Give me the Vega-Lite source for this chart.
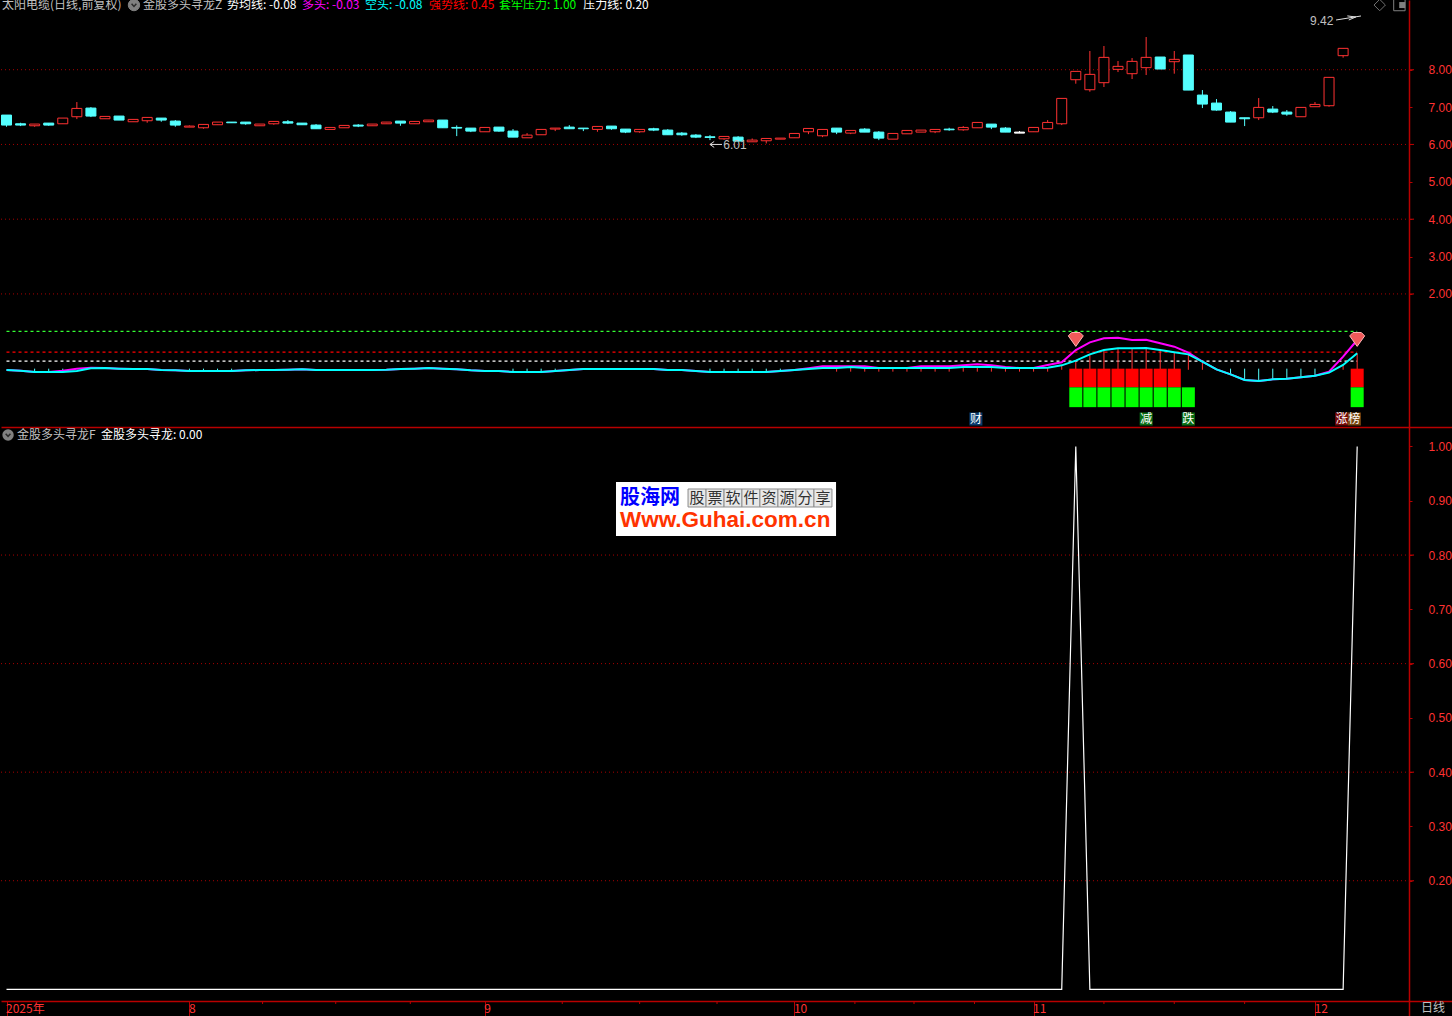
{"$schema":"https://vega.github.io/schema/vega-lite/v6.json","background":"#000000","padding":0,"spacing":0,"config":{"view":{"stroke":null},"concat":{"spacing":0},"text":{"font":"Noto Sans CJK SC"},"axis":{"title":null,"grid":false}},"datasets":{"candles":[
{"i":0,"top":6.786,"bot":6.518,"high":6.786,"low":6.473,"dir":"down"},
{"i":1,"top":6.553,"bot":6.518,"high":6.58,"low":6.491,"dir":"down"},
{"i":2,"top":6.545,"bot":6.5,"high":6.545,"low":6.473,"dir":"up"},
{"i":3,"top":6.571,"bot":6.518,"high":6.571,"low":6.5,"dir":"down"},
{"i":4,"top":6.705,"bot":6.553,"high":6.705,"low":6.553,"dir":"up"},
{"i":5,"top":6.964,"bot":6.741,"high":7.134,"low":6.678,"dir":"up"},
{"i":6,"top":6.973,"bot":6.759,"high":7.0,"low":6.732,"dir":"down"},
{"i":7,"top":6.75,"bot":6.687,"high":6.75,"low":6.687,"dir":"up"},
{"i":8,"top":6.759,"bot":6.652,"high":6.759,"low":6.652,"dir":"down"},
{"i":9,"top":6.67,"bot":6.607,"high":6.67,"low":6.607,"dir":"up"},
{"i":10,"top":6.723,"bot":6.634,"high":6.723,"low":6.58,"dir":"up"},
{"i":11,"top":6.705,"bot":6.652,"high":6.705,"low":6.607,"dir":"down"},
{"i":12,"top":6.625,"bot":6.518,"high":6.652,"low":6.473,"dir":"down"},
{"i":13,"top":6.491,"bot":6.464,"high":6.509,"low":6.464,"dir":"up"},
{"i":14,"top":6.536,"bot":6.446,"high":6.536,"low":6.42,"dir":"up"},
{"i":15,"top":6.598,"bot":6.527,"high":6.598,"low":6.527,"dir":"up"},
{"i":16,"top":6.598,"bot":6.58,"high":6.598,"low":6.58,"dir":"down"},
{"i":17,"top":6.598,"bot":6.553,"high":6.598,"low":6.527,"dir":"down"},
{"i":18,"top":6.545,"bot":6.5,"high":6.545,"low":6.5,"dir":"up"},
{"i":19,"top":6.616,"bot":6.553,"high":6.616,"low":6.527,"dir":"up"},
{"i":20,"top":6.607,"bot":6.571,"high":6.652,"low":6.545,"dir":"down"},
{"i":21,"top":6.571,"bot":6.527,"high":6.571,"low":6.527,"dir":"down"},
{"i":22,"top":6.518,"bot":6.42,"high":6.545,"low":6.42,"dir":"down"},
{"i":23,"top":6.455,"bot":6.402,"high":6.455,"low":6.402,"dir":"up"},
{"i":24,"top":6.509,"bot":6.446,"high":6.509,"low":6.446,"dir":"up"},
{"i":25,"top":6.518,"bot":6.491,"high":6.545,"low":6.464,"dir":"down"},
{"i":26,"top":6.545,"bot":6.5,"high":6.545,"low":6.5,"dir":"up"},
{"i":27,"top":6.598,"bot":6.553,"high":6.598,"low":6.553,"dir":"up"},
{"i":28,"top":6.625,"bot":6.571,"high":6.625,"low":6.5,"dir":"down"},
{"i":29,"top":6.616,"bot":6.553,"high":6.616,"low":6.553,"dir":"up"},
{"i":30,"top":6.652,"bot":6.607,"high":6.652,"low":6.607,"dir":"up"},
{"i":31,"top":6.652,"bot":6.446,"high":6.652,"low":6.446,"dir":"down"},
{"i":32,"top":6.455,"bot":6.437,"high":6.509,"low":6.223,"dir":"down"},
{"i":33,"top":6.437,"bot":6.357,"high":6.437,"low":6.33,"dir":"down"},
{"i":34,"top":6.455,"bot":6.339,"high":6.455,"low":6.339,"dir":"up"},
{"i":35,"top":6.464,"bot":6.357,"high":6.464,"low":6.339,"dir":"down"},
{"i":36,"top":6.357,"bot":6.196,"high":6.411,"low":6.196,"dir":"down"},
{"i":37,"top":6.25,"bot":6.178,"high":6.303,"low":6.178,"dir":"up"},
{"i":38,"top":6.402,"bot":6.259,"high":6.402,"low":6.259,"dir":"up"},
{"i":39,"top":6.437,"bot":6.411,"high":6.437,"low":6.357,"dir":"up"},
{"i":40,"top":6.464,"bot":6.42,"high":6.518,"low":6.42,"dir":"down"},
{"i":41,"top":6.437,"bot":6.42,"high":6.437,"low":6.357,"dir":"down"},
{"i":42,"top":6.482,"bot":6.402,"high":6.482,"low":6.339,"dir":"up"},
{"i":43,"top":6.491,"bot":6.42,"high":6.491,"low":6.393,"dir":"down"},
{"i":44,"top":6.411,"bot":6.33,"high":6.411,"low":6.303,"dir":"down"},
{"i":45,"top":6.402,"bot":6.339,"high":6.402,"low":6.312,"dir":"up"},
{"i":46,"top":6.42,"bot":6.384,"high":6.446,"low":6.357,"dir":"down"},
{"i":47,"top":6.384,"bot":6.259,"high":6.411,"low":6.259,"dir":"down"},
{"i":48,"top":6.303,"bot":6.259,"high":6.33,"low":6.232,"dir":"down"},
{"i":49,"top":6.25,"bot":6.196,"high":6.277,"low":6.17,"dir":"down"},
{"i":50,"top":6.205,"bot":6.187,"high":6.25,"low":6.116,"dir":"down"},
{"i":51,"top":6.214,"bot":6.151,"high":6.214,"low":6.125,"dir":"up"},
{"i":52,"top":6.196,"bot":6.089,"high":6.223,"low":6.089,"dir":"down"},
{"i":53,"top":6.116,"bot":6.071,"high":6.16,"low":6.071,"dir":"up"},
{"i":54,"top":6.16,"bot":6.098,"high":6.16,"low":6.026,"dir":"up"},
{"i":55,"top":6.169,"bot":6.142,"high":6.169,"low":6.142,"dir":"up"},
{"i":56,"top":6.294,"bot":6.178,"high":6.294,"low":6.178,"dir":"up"},
{"i":57,"top":6.428,"bot":6.339,"high":6.428,"low":6.276,"dir":"up"},
{"i":58,"top":6.401,"bot":6.232,"high":6.401,"low":6.196,"dir":"up"},
{"i":59,"top":6.437,"bot":6.33,"high":6.437,"low":6.276,"dir":"down"},
{"i":60,"top":6.375,"bot":6.303,"high":6.375,"low":6.276,"dir":"up"},
{"i":61,"top":6.41,"bot":6.33,"high":6.437,"low":6.33,"dir":"down"},
{"i":62,"top":6.33,"bot":6.169,"high":6.357,"low":6.116,"dir":"down"},
{"i":63,"top":6.294,"bot":6.142,"high":6.294,"low":6.142,"dir":"up"},
{"i":64,"top":6.375,"bot":6.285,"high":6.375,"low":6.285,"dir":"up"},
{"i":65,"top":6.384,"bot":6.33,"high":6.384,"low":6.33,"dir":"up"},
{"i":66,"top":6.401,"bot":6.339,"high":6.401,"low":6.303,"dir":"up"},
{"i":67,"top":6.41,"bot":6.392,"high":6.446,"low":6.366,"dir":"down"},
{"i":68,"top":6.455,"bot":6.392,"high":6.491,"low":6.366,"dir":"up"},
{"i":69,"top":6.589,"bot":6.446,"high":6.589,"low":6.446,"dir":"up"},
{"i":70,"top":6.544,"bot":6.464,"high":6.544,"low":6.41,"dir":"down"},
{"i":71,"top":6.437,"bot":6.33,"high":6.464,"low":6.33,"dir":"down"},
{"i":72,"top":6.33,"bot":6.303,"high":6.357,"low":6.303,"dir":"flat"},
{"i":73,"top":6.455,"bot":6.339,"high":6.455,"low":6.339,"dir":"up"},
{"i":74,"top":6.589,"bot":6.42,"high":6.652,"low":6.42,"dir":"up"},
{"i":75,"top":7.232,"bot":6.553,"high":7.232,"low":6.518,"dir":"up"},
{"i":76,"top":7.955,"bot":7.732,"high":7.955,"low":7.625,"dir":"up"},
{"i":77,"top":7.875,"bot":7.464,"high":8.5,"low":7.411,"dir":"up"},
{"i":78,"top":8.33,"bot":7.652,"high":8.634,"low":7.536,"dir":"up"},
{"i":79,"top":8.089,"bot":8.009,"high":8.232,"low":7.937,"dir":"up"},
{"i":80,"top":8.223,"bot":7.893,"high":8.312,"low":7.75,"dir":"up"},
{"i":81,"top":8.33,"bot":8.054,"high":8.875,"low":7.857,"dir":"up"},
{"i":82,"top":8.339,"bot":8.018,"high":8.339,"low":8.018,"dir":"down"},
{"i":83,"top":8.277,"bot":8.214,"high":8.5,"low":7.893,"dir":"up"},
{"i":84,"top":8.393,"bot":7.455,"high":8.393,"low":7.455,"dir":"down"},
{"i":85,"top":7.321,"bot":7.08,"high":7.455,"low":6.973,"dir":"down"},
{"i":86,"top":7.107,"bot":6.92,"high":7.214,"low":6.902,"dir":"down"},
{"i":87,"top":6.866,"bot":6.598,"high":6.893,"low":6.598,"dir":"down"},
{"i":88,"top":6.714,"bot":6.687,"high":6.714,"low":6.491,"dir":"down"},
{"i":89,"top":6.991,"bot":6.714,"high":7.241,"low":6.652,"dir":"up"},
{"i":90,"top":6.946,"bot":6.866,"high":7.027,"low":6.839,"dir":"down"},
{"i":91,"top":6.866,"bot":6.812,"high":6.92,"low":6.768,"dir":"down"},
{"i":92,"top":6.991,"bot":6.741,"high":6.991,"low":6.741,"dir":"up"},
{"i":93,"top":7.071,"bot":7.009,"high":7.134,"low":7.009,"dir":"up"},
{"i":94,"top":7.795,"bot":7.036,"high":7.795,"low":7.009,"dir":"up"},
{"i":95,"top":8.571,"bot":8.375,"high":8.571,"low":8.321,"dir":"up"}
],"ind":[
{"i":0,"duo":-0.036,"kong":-0.036,"f":0},{"i":1,"duo":-0.054,"kong":-0.054,"f":0},{"i":2,"duo":-0.09,"kong":-0.09,"f":0},{"i":3,"duo":-0.09,"kong":-0.09,"f":0},{"i":4,"duo":-0.054,"kong":-0.09,"f":0},{"i":5,"duo":0.0,"kong":-0.063,"f":0},{"i":6,"duo":0.026,"kong":0.008,"f":0},{"i":7,"duo":0.017,"kong":0.017,"f":0},{"i":8,"duo":0,"kong":0,"f":0},{"i":9,"duo":-0.009,"kong":-0.009,"f":0},
{"i":10,"duo":-0.009,"kong":-0.009,"f":0},{"i":11,"duo":-0.036,"kong":-0.036,"f":0},{"i":12,"duo":-0.045,"kong":-0.045,"f":0},{"i":13,"duo":-0.063,"kong":-0.063,"f":0},{"i":14,"duo":-0.063,"kong":-0.063,"f":0},{"i":15,"duo":-0.063,"kong":-0.063,"f":0},{"i":16,"duo":-0.063,"kong":-0.063,"f":0},{"i":17,"duo":-0.045,"kong":-0.045,"f":0},{"i":18,"duo":-0.036,"kong":-0.036,"f":0},{"i":19,"duo":-0.036,"kong":-0.036,"f":0},
{"i":20,"duo":-0.027,"kong":-0.027,"f":0},{"i":21,"duo":-0.018,"kong":-0.018,"f":0},{"i":22,"duo":-0.036,"kong":-0.036,"f":0},{"i":23,"duo":-0.036,"kong":-0.036,"f":0},{"i":24,"duo":-0.036,"kong":-0.036,"f":0},{"i":25,"duo":-0.036,"kong":-0.036,"f":0},{"i":26,"duo":-0.036,"kong":-0.036,"f":0},{"i":27,"duo":-0.027,"kong":-0.027,"f":0},{"i":28,"duo":-0.009,"kong":-0.009,"f":0},{"i":29,"duo":0,"kong":0,"f":0},
{"i":30,"duo":0.017,"kong":0.017,"f":0},{"i":31,"duo":0,"kong":0,"f":0},{"i":32,"duo":-0.018,"kong":-0.018,"f":0},{"i":33,"duo":-0.045,"kong":-0.045,"f":0},{"i":34,"duo":-0.063,"kong":-0.063,"f":0},{"i":35,"duo":-0.063,"kong":-0.063,"f":0},{"i":36,"duo":-0.09,"kong":-0.09,"f":0},{"i":37,"duo":-0.09,"kong":-0.09,"f":0},{"i":38,"duo":-0.09,"kong":-0.09,"f":0},{"i":39,"duo":-0.063,"kong":-0.063,"f":0},
{"i":40,"duo":-0.036,"kong":-0.036,"f":0},{"i":41,"duo":-0.009,"kong":-0.009,"f":0},{"i":42,"duo":-0.009,"kong":-0.009,"f":0},{"i":43,"duo":-0.009,"kong":-0.009,"f":0},{"i":44,"duo":-0.009,"kong":-0.009,"f":0},{"i":45,"duo":-0.009,"kong":-0.009,"f":0},{"i":46,"duo":-0.009,"kong":-0.009,"f":0},{"i":47,"duo":-0.036,"kong":-0.036,"f":0},{"i":48,"duo":-0.036,"kong":-0.036,"f":0},{"i":49,"duo":-0.063,"kong":-0.063,"f":0},
{"i":50,"duo":-0.09,"kong":-0.09,"f":0},{"i":51,"duo":-0.09,"kong":-0.09,"f":0},{"i":52,"duo":-0.09,"kong":-0.09,"f":0},{"i":53,"duo":-0.09,"kong":-0.09,"f":0},{"i":54,"duo":-0.09,"kong":-0.09,"f":0},{"i":55,"duo":-0.063,"kong":-0.063,"f":0},{"i":56,"duo":-0.036,"kong":-0.036,"f":0},{"i":57,"duo":0.009,"kong":-0.009,"f":0},{"i":58,"duo":0.062,"kong":0.018,"f":0},{"i":59,"duo":0.062,"kong":0.018,"f":0},
{"i":60,"duo":0.062,"kong":0.045,"f":0},{"i":61,"duo":0.062,"kong":0.018,"f":0},{"i":62,"duo":0.018,"kong":0.018,"f":0},{"i":63,"duo":0.018,"kong":0.018,"f":0},{"i":64,"duo":0.018,"kong":0.018,"f":0},{"i":65,"duo":0.062,"kong":0.018,"f":0},{"i":66,"duo":0.062,"kong":0.018,"f":0},{"i":67,"duo":0.062,"kong":0.018,"f":0},{"i":68,"duo":0.089,"kong":0.045,"f":0},{"i":69,"duo":0.116,"kong":0.045,"f":0},
{"i":70,"duo":0.089,"kong":0.045,"f":0},{"i":71,"duo":0.045,"kong":0.018,"f":0},{"i":72,"duo":0.018,"kong":0.018,"f":0},{"i":73,"duo":0.018,"kong":0.018,"f":0},{"i":74,"duo":0.098,"kong":0.026,"f":0},{"i":75,"duo":0.169,"kong":0.089,"f":0},{"i":76,"duo":0.499,"kong":0.214,"f":1},{"i":77,"duo":0.704,"kong":0.383,"f":0},{"i":78,"duo":0.811,"kong":0.499,"f":0},{"i":79,"duo":0.829,"kong":0.544,"f":0},
{"i":80,"duo":0.767,"kong":0.544,"f":0},{"i":81,"duo":0.776,"kong":0.553,"f":0},{"i":82,"duo":0.678,"kong":0.499,"f":0},{"i":83,"duo":0.588,"kong":0.437,"f":0},{"i":84,"duo":0.428,"kong":0.383,"f":0},{"i":85,"duo":0.187,"kong":0.187,"f":0},{"i":86,"duo":-0.018,"kong":-0.018,"f":0},{"i":87,"duo":-0.152,"kong":-0.152,"f":0},{"i":88,"duo":-0.304,"kong":-0.304,"f":0},{"i":89,"duo":-0.33,"kong":-0.33,"f":0},
{"i":90,"duo":-0.286,"kong":-0.286,"f":0},{"i":91,"duo":-0.268,"kong":-0.268,"f":0},{"i":92,"duo":-0.232,"kong":-0.232,"f":0},{"i":93,"duo":-0.188,"kong":-0.188,"f":0},{"i":94,"duo":-0.081,"kong":-0.107,"f":0},{"i":95,"duo":0.321,"kong":0.098,"f":0},{"i":96,"duo":0.767,"kong":0.41,"f":1}
],"stems":[
{"i":2,"base":0,"v":-0.09,"sign":"neg"},{"i":3,"base":0,"v":-0.09,"sign":"neg"},{"i":4,"base":0,"v":-0.09,"sign":"neg"},{"i":13,"base":0,"v":-0.063,"sign":"neg"},{"i":14,"base":0,"v":-0.063,"sign":"neg"},{"i":15,"base":0,"v":-0.063,"sign":"neg"},{"i":16,"base":0,"v":-0.063,"sign":"neg"},{"i":36,"base":0,"v":-0.09,"sign":"neg"},{"i":37,"base":0,"v":-0.09,"sign":"neg"},{"i":38,"base":0,"v":-0.09,"sign":"neg"},{"i":39,"base":0,"v":-0.063,"sign":"neg"},{"i":50,"base":0,"v":-0.09,"sign":"neg"},{"i":51,"base":0,"v":-0.09,"sign":"neg"},{"i":52,"base":0,"v":-0.09,"sign":"neg"},{"i":53,"base":0,"v":-0.09,"sign":"neg"},{"i":54,"base":0,"v":-0.09,"sign":"neg"},{"i":55,"base":0,"v":-0.063,"sign":"neg"},
{"i":59,"base":-0.08,"v":0.018,"sign":"pos"},{"i":60,"base":-0.08,"v":0.045,"sign":"pos"},{"i":61,"base":-0.08,"v":0.018,"sign":"pos"},{"i":62,"base":-0.08,"v":0.018,"sign":"pos"},{"i":63,"base":-0.08,"v":0.018,"sign":"pos"},{"i":64,"base":-0.08,"v":0.018,"sign":"pos"},{"i":65,"base":-0.08,"v":0.018,"sign":"pos"},{"i":66,"base":-0.08,"v":0.018,"sign":"pos"},{"i":67,"base":-0.08,"v":0.018,"sign":"pos"},{"i":68,"base":-0.08,"v":0.045,"sign":"pos"},{"i":69,"base":-0.08,"v":0.045,"sign":"pos"},{"i":70,"base":-0.08,"v":0.045,"sign":"pos"},{"i":71,"base":-0.08,"v":0.018,"sign":"pos"},{"i":72,"base":-0.08,"v":0.018,"sign":"pos"},{"i":73,"base":-0.08,"v":0.018,"sign":"pos"},{"i":74,"base":-0.08,"v":0.026,"sign":"pos"},
{"i":75,"base":-0.03,"v":0.089,"sign":"pos"},{"i":76,"base":-0.03,"v":0.214,"sign":"pos"},{"i":77,"base":-0.03,"v":0.383,"sign":"pos"},{"i":78,"base":-0.03,"v":0.499,"sign":"pos"},{"i":79,"base":-0.03,"v":0.544,"sign":"pos"},{"i":80,"base":-0.03,"v":0.544,"sign":"pos"},{"i":81,"base":-0.03,"v":0.553,"sign":"pos"},{"i":82,"base":-0.03,"v":0.499,"sign":"pos"},{"i":83,"base":-0.03,"v":0.437,"sign":"pos"},{"i":84,"base":-0.03,"v":0.383,"sign":"pos"},{"i":85,"base":-0.03,"v":0.187,"sign":"pos"},{"i":95,"base":-0.03,"v":0.098,"sign":"pos"},{"i":96,"base":-0.03,"v":0.41,"sign":"pos"},
{"i":87,"base":0,"v":-0.152,"sign":"neg"},{"i":88,"base":0,"v":-0.304,"sign":"neg"},{"i":89,"base":0,"v":-0.33,"sign":"neg"},{"i":90,"base":0,"v":-0.286,"sign":"neg"},{"i":91,"base":0,"v":-0.268,"sign":"neg"},{"i":92,"base":0,"v":-0.232,"sign":"neg"},{"i":93,"base":0,"v":-0.188,"sign":"neg"}
],"blocks":[
{"i":76,"a":0,"b":-0.5,"k":"red"},{"i":77,"a":0,"b":-0.5,"k":"red"},{"i":78,"a":0,"b":-0.5,"k":"red"},{"i":79,"a":0,"b":-0.5,"k":"red"},{"i":80,"a":0,"b":-0.5,"k":"red"},{"i":81,"a":0,"b":-0.5,"k":"red"},{"i":82,"a":0,"b":-0.5,"k":"red"},{"i":83,"a":0,"b":-0.5,"k":"red"},{"i":96,"a":0,"b":-0.5,"k":"red"},
{"i":76,"a":-0.5,"b":-1.03,"k":"green"},{"i":77,"a":-0.5,"b":-1.03,"k":"green"},{"i":78,"a":-0.5,"b":-1.03,"k":"green"},{"i":79,"a":-0.5,"b":-1.03,"k":"green"},{"i":80,"a":-0.5,"b":-1.03,"k":"green"},{"i":81,"a":-0.5,"b":-1.03,"k":"green"},{"i":82,"a":-0.5,"b":-1.03,"k":"green"},{"i":83,"a":-0.5,"b":-1.03,"k":"green"},{"i":84,"a":-0.5,"b":-1.03,"k":"green"},{"i":96,"a":-0.5,"b":-1.03,"k":"green"}
],"levels":[{"i0":0,"i1":96,"v":1.0,"k":"套牢压力"},{"i0":0,"i1":96,"v":0.44,"k":"强势线"},{"i0":0,"i1":96,"v":0.2,"k":"压力线"}],
"gridTop":[{"i0":-0.39,"i1":100,"v":8},{"i0":-0.39,"i1":100,"v":6},{"i0":-0.39,"i1":100,"v":4},{"i0":-0.39,"i1":100,"v":2}],
"gridBot":[{"i0":-0.39,"i1":100,"v":0.8},{"i0":-0.39,"i1":100,"v":0.6},{"i0":-0.39,"i1":100,"v":0.4},{"i0":-0.39,"i1":100,"v":0.2}],
"gems":[{"i":76,"v":0.767},{"i":96,"v":0.767}],
"badges":[{"i":68.9,"v":-1.347,"t":"财","k":"财"},{"i":81,"v":-1.347,"t":"减","k":"减"},{"i":84,"v":-1.347,"t":"跌","k":"跌"},{"i":94.9,"v":-1.347,"t":"涨","k":"涨"},{"i":95.8,"v":-1.347,"t":"榜","k":"榜"}],
"head":[{"i":-0.32,"v":9.73,"t":"太阳电缆(日线,前复权)","k":"name"},{"i":9.7,"v":9.73,"t":"金股多头寻龙Z","k":"name"},{"i":15.67,"v":9.73,"t":"势均线: -0.08","k":"white"},{"i":21.0,"v":9.73,"t":"多头: -0.03","k":"magenta"},{"i":25.48,"v":9.73,"t":"空头: -0.08","k":"cyan"},{"i":30.03,"v":9.73,"t":"强势线: 0.45","k":"red"},{"i":35.0,"v":9.73,"t":"套牢压力: 1.00","k":"green"},{"i":41.0,"v":9.73,"t":"压力线: 0.20","k":"white"}],
"extremes":[{"i":92.65,"v":9.31,"t":"9.42"},{"i":50.95,"v":5.98,"t":"6.01"}],
"arrows":[{"i":94.5,"v":9.33,"i2":96.27,"v2":9.437},{"i":95.3,"v":9.44,"i2":95.9,"v2":9.41},{"i":95.4,"v":9.33,"i2":95.9,"v2":9.41},{"i":50,"v":6.0,"i2":50.85,"v2":6.0},{"i":50,"v":6.0,"i2":50.3,"v2":6.08},{"i":50,"v":6.0,"i2":50.3,"v2":5.92}],
"iconTop":[{"i":9.06,"v":9.73,"k":"round"},{"i":97.6,"v":9.73,"k":"diamond"},{"i":99.0,"v":9.73,"k":"panel"}],
"chevrons":[{"i":9.06,"v":9.73,"panel":"top"}],
"panelFill":[{"i":99.2,"v":9.73}],
"majorTop":[{"i0":99.68,"i1":100.04,"v":8},{"i0":99.68,"i1":100.04,"v":6},{"i0":99.68,"i1":100.04,"v":4},{"i0":99.68,"i1":100.04,"v":2}],
"majorBot":[{"i0":99.68,"i1":100.04,"v":0.8},{"i0":99.68,"i1":100.04,"v":0.6},{"i0":99.68,"i1":100.04,"v":0.4},{"i0":99.68,"i1":100.04,"v":0.2}],
"barsBottom":[{"i0":43.32,"i1":58.96,"a":0.9346,"b":0.8351}],
"wmCells":[{"i":49.08,"t":"股"},{"i":50.36,"t":"票"},{"i":51.64,"t":"软"},{"i":52.91,"t":"件"},{"i":54.19,"t":"资"},{"i":55.47,"t":"源"},{"i":56.75,"t":"分"},{"i":58.03,"t":"享"}],
"minor":[{"i":18.2,"a":-0.0216,"b":-0.0271},{"i":23.4,"a":-0.0216,"b":-0.0271},{"i":28.7,"a":-0.0216,"b":-0.0271},{"i":39.5,"a":-0.0216,"b":-0.0271},{"i":45,"a":-0.0216,"b":-0.0271},{"i":50.5,"a":-0.0216,"b":-0.0271},{"i":60.3,"a":-0.0216,"b":-0.0271},{"i":64.5,"a":-0.0216,"b":-0.0271},{"i":68.8,"a":-0.0216,"b":-0.0271},{"i":78,"a":-0.0216,"b":-0.0271},{"i":83,"a":-0.0216,"b":-0.0271},{"i":88,"a":-0.0216,"b":-0.0271}]
},
"vconcat":[
{"width":1452,"height":427,"resolve":{"scale":{"color":"independent","fill":"independent","stroke":"independent"}},"layer":[
{"data":{"name":"gridTop"},"mark":{"type":"rule","color":"#a80000","strokeDash":[1,3],"strokeWidth":1},"encoding":{
"x":{"field":"i0","type":"quantitative","scale":{"domain":[-0.391,102.81],"nice":false,"zero":false,"padding":0},"axis":{"orient":"bottom","labels":false,"ticks":false,"title":null,"grid":false,"domainColor":"#b80000","domainWidth":1.5}},
"x2":{"field":"i1"},
"y":{"field":"v","type":"quantitative","scale":{"domain":[-1.561,9.865],"nice":false,"zero":false,"padding":0},"axis":{"orient":"right","offset":-44,"values":[8,7,6,5,4,3,2],"format":".2f","title":null,"grid":false,"domainColor":"#b80000","domainWidth":1.5,"tickColor":"#b80000","tickSize":3,"labelColor":"#ff3232","labelFont":"Liberation Sans","labelFontSize":12,"labelPadding":16,"labelAlign":"left","labelFlush":false,"labelBound":false,"labelOverlap":false}}}},
{"data":{"name":"majorTop"},"mark":{"type":"rule","color":"#b80000","strokeWidth":1},"encoding":{"x":{"field":"i0","type":"quantitative"},"x2":{"field":"i1"},"y":{"field":"v","type":"quantitative"}}},
{"data":{"name":"candles"},"mark":{"type":"rule","strokeWidth":1},"encoding":{"x":{"field":"i","type":"quantitative"},"y":{"field":"low","type":"quantitative"},"y2":{"field":"high"},"color":{"field":"dir","type":"nominal","legend":null,"scale":{"domain":["up","down","flat"],"range":["#ff3232","#54ffff","#ffffff"]}}}},
{"data":{"name":"candles"},"mark":{"type":"bar","size":10,"strokeWidth":1},"encoding":{"x":{"field":"i","type":"quantitative"},"y":{"field":"top","type":"quantitative"},"y2":{"field":"bot"},"fill":{"field":"dir","type":"nominal","legend":null,"scale":{"domain":["up","down","flat"],"range":["#000000","#54ffff","#ffffff"]}},"stroke":{"field":"dir","type":"nominal","legend":null,"scale":{"domain":["up","down","flat"],"range":["#ff3232","#54ffff","#ffffff"]}}}},
{"data":{"name":"levels"},"mark":{"type":"rule","strokeDash":[3,3],"strokeWidth":1.2},"encoding":{"x":{"field":"i0","type":"quantitative"},"x2":{"field":"i1"},"y":{"field":"v","type":"quantitative"},"color":{"field":"k","type":"nominal","legend":null,"scale":{"domain":["套牢压力","强势线","压力线"],"range":["#33ff33","#ff0000","#ffffff"]}}}},
{"data":{"name":"stems"},"mark":{"type":"rule","strokeWidth":1},"encoding":{"x":{"field":"i","type":"quantitative"},"y":{"field":"base","type":"quantitative"},"y2":{"field":"v"},"color":{"field":"sign","type":"nominal","legend":null,"scale":{"domain":["pos","neg"],"range":["#ff3232","#54ffff"]}}}},
{"data":{"name":"blocks"},"mark":{"type":"bar","size":13},"encoding":{"x":{"field":"i","type":"quantitative"},"y":{"field":"a","type":"quantitative"},"y2":{"field":"b"},"fill":{"field":"k","type":"nominal","legend":null,"scale":{"domain":["red","green"],"range":["#ff0000","#00ff00"]}}}},
{"data":{"name":"ind"},"mark":{"type":"line","color":"#ff00ff","strokeWidth":2},"encoding":{"x":{"field":"i","type":"quantitative"},"y":{"field":"duo","type":"quantitative"}}},
{"data":{"name":"ind"},"mark":{"type":"line","color":"#00ffff","strokeWidth":2},"encoding":{"x":{"field":"i","type":"quantitative"},"y":{"field":"kong","type":"quantitative"}}},
{"data":{"name":"gems"},"mark":{"type":"point","filled":true,"size":225,"shape":"M-1,-0.55 L-0.55,-1 L0.55,-1 L1,-0.55 L0,0.85 Z","fill":"#f05a5a","stroke":"#ffb4b4","strokeWidth":1,"opacity":1},"encoding":{"x":{"field":"i","type":"quantitative"},"y":{"field":"v","type":"quantitative"}}},
{"data":{"name":"badges"},"mark":{"type":"point","filled":true,"shape":"square","size":169,"opacity":1},"encoding":{"x":{"field":"i","type":"quantitative"},"y":{"field":"v","type":"quantitative"},"fill":{"field":"k","type":"nominal","legend":null,"scale":{"domain":["财","减","跌","涨","榜"],"range":["#0a3c6e","#0a6e14","#0a6e14","#780a0a","#784610"]}}}},
{"data":{"name":"badges"},"mark":{"type":"text","fontSize":12,"color":"#ffffff","baseline":"middle","align":"center"},"encoding":{"x":{"field":"i","type":"quantitative"},"y":{"field":"v","type":"quantitative"},"text":{"field":"t"}}},
{"data":{"name":"head"},"mark":{"type":"text","clip":true,"fontSize":12,"baseline":"middle","align":"left"},"encoding":{"x":{"field":"i","type":"quantitative"},"y":{"field":"v","type":"quantitative"},"text":{"field":"t"},"color":{"field":"k","type":"nominal","legend":null,"scale":{"domain":["name","white","magenta","cyan","red","green"],"range":["#c0c0c0","#ffffff","#ff00ff","#00ffff","#ff0000","#00ff00"]}}}},
{"data":{"name":"extremes"},"mark":{"type":"text","fontSize":12,"font":"Liberation Sans","baseline":"middle","align":"left","color":"#c0c0c0"},"encoding":{"x":{"field":"i","type":"quantitative"},"y":{"field":"v","type":"quantitative"},"text":{"field":"t"}}},
{"data":{"name":"arrows"},"mark":{"type":"rule","color":"#e0e0e0","strokeWidth":1},"encoding":{"x":{"field":"i","type":"quantitative"},"x2":{"field":"i2"},"y":{"field":"v","type":"quantitative"},"y2":{"field":"v2"}}},
{"data":{"name":"iconTop"},"mark":{"type":"point","clip":true,"opacity":1,"strokeWidth":1,"size":130},"encoding":{"x":{"field":"i","type":"quantitative"},"y":{"field":"v","type":"quantitative"},"shape":{"field":"k","type":"nominal","legend":null,"scale":{"domain":["round","diamond","panel"],"range":["circle","diamond","square"]}},"fill":{"field":"k","type":"nominal","legend":null,"scale":{"domain":["round","diamond","panel"],"range":["#808080","transparent","transparent"]}},"stroke":{"field":"k","type":"nominal","legend":null,"scale":{"domain":["round","diamond","panel"],"range":["#808080","#707070","#808080"]}}}},
{"data":{"name":"panelFill"},"mark":{"type":"point","clip":true,"shape":"square","filled":true,"size":36,"color":"#808080","opacity":1},"encoding":{"x":{"field":"i","type":"quantitative"},"y":{"field":"v","type":"quantitative"}}},
{"data":{"name":"chevrons"},"mark":{"type":"point","clip":true,"shape":"M-0.6,-0.3 L0,0.35 L0.6,-0.3","filled":false,"size":64,"stroke":"#2a2a2a","strokeWidth":1.5,"opacity":1},"encoding":{"x":{"field":"i","type":"quantitative"},"y":{"field":"v","type":"quantitative"}}}
]},
{"width":1452,"height":589,"resolve":{"scale":{"color":"independent","fill":"independent","stroke":"independent"}},"layer":[
{"data":{"name":"gridBot"},"mark":{"type":"rule","color":"#a80000","strokeDash":[1,3],"strokeWidth":1},"encoding":{
"x":{"field":"i0","type":"quantitative","scale":{"domain":[-0.391,102.81],"nice":false,"zero":false,"padding":0},"axis":{"orient":"bottom","offset":-15,"values":[0,13,34,56,73,93],"labelExpr":"datum.value==0?'2025年':datum.value==13?'8':datum.value==34?'9':datum.value==56?'10':datum.value==73?'11':'12'","title":null,"grid":false,"domainColor":"#b80000","domainWidth":1.5,"tickColor":"#b80000","tickSize":15,"labelColor":"#ff3232","labelFont":"Noto Sans CJK SC","labelFontSize":12,"labelAlign":"left","labelBaseline":"middle","labelPadding":-8,"labelOffset":-1,"labelFlush":false,"labelBound":false,"labelOverlap":false}},
"x2":{"field":"i1"},
"y":{"field":"v","type":"quantitative","scale":{"domain":[-0.0492,1.0359],"nice":false,"zero":false,"padding":0},"axis":{"orient":"right","offset":-44,"values":[1,0.9,0.8,0.7,0.6,0.5,0.4,0.3,0.2],"format":".2f","title":null,"grid":false,"domainColor":"#b80000","domainWidth":1.5,"tickColor":"#b80000","tickSize":3,"labelColor":"#ff3232","labelFont":"Liberation Sans","labelFontSize":12,"labelPadding":16,"labelAlign":"left","labelFlush":false,"labelBound":false,"labelOverlap":false}}}},
{"data":{"name":"majorBot"},"mark":{"type":"rule","color":"#b80000","strokeWidth":1},"encoding":{"x":{"field":"i0","type":"quantitative"},"x2":{"field":"i1"},"y":{"field":"v","type":"quantitative"}}},
{"data":{"name":"minor"},"mark":{"type":"rule","color":"#b80000"},"encoding":{"x":{"field":"i","type":"quantitative"},"y":{"field":"a","type":"quantitative"},"y2":{"field":"b"}}},
{"data":{"name":"ind"},"mark":{"type":"line","color":"#ffffff","strokeWidth":1.2},"encoding":{"x":{"field":"i","type":"quantitative"},"y":{"field":"f","type":"quantitative"}}},
{"data":{"name":"barsBottom"},"mark":{"type":"rect","color":"#ffffff"},"encoding":{"x":{"field":"i0","type":"quantitative"},"x2":{"field":"i1"},"y":{"field":"a","type":"quantitative"},"y2":{"field":"b"}}},
{"data":{"name":"wmCells"},"mark":{"type":"point","shape":"square","size":324,"filled":true,"fill":"#e8e8e8","stroke":"#8c8c8c","strokeWidth":1,"opacity":1},"encoding":{"x":{"field":"i","type":"quantitative"},"y":{"datum":0.9051,"type":"quantitative"}}},
{"data":{"name":"wmCells"},"mark":{"type":"text","fontSize":15,"color":"#303030","baseline":"middle","align":"center"},"encoding":{"x":{"field":"i","type":"quantitative"},"y":{"datum":0.9051,"type":"quantitative"},"text":{"field":"t"}}},
{"data":{"values":[{"i":43.6,"v":0.9051,"t":"股海网"}]},"mark":{"type":"text","fontSize":20,"fontWeight":"bold","color":"#0000ff","baseline":"middle","align":"left"},"encoding":{"x":{"field":"i","type":"quantitative"},"y":{"field":"v","type":"quantitative"},"text":{"field":"t"}}},
{"data":{"values":[{"i":43.6,"v":0.8646,"t":"Www.Guhai.com.cn"}]},"mark":{"type":"text","fontSize":22.5,"fontWeight":"bold","font":"Liberation Sans","color":"#ff3300","baseline":"middle","align":"left"},"encoding":{"x":{"field":"i","type":"quantitative"},"y":{"field":"v","type":"quantitative"},"text":{"field":"t"}}},
{"data":{"values":[{"i":0.11,"v":1.0212}]},"mark":{"type":"point","shape":"circle","size":130,"filled":true,"color":"#808080","opacity":1},"encoding":{"x":{"field":"i","type":"quantitative"},"y":{"field":"v","type":"quantitative"}}},
{"data":{"values":[{"i":0.11,"v":1.0212}]},"mark":{"type":"point","shape":"M-0.6,-0.3 L0,0.35 L0.6,-0.3","filled":false,"size":64,"stroke":"#2a2a2a","strokeWidth":1.5,"opacity":1},"encoding":{"x":{"field":"i","type":"quantitative"},"y":{"field":"v","type":"quantitative"}}},
{"data":{"values":[{"i":0.75,"v":1.0212,"t":"金股多头寻龙F","k":"name"},{"i":6.72,"v":1.0212,"t":"金股多头寻龙: 0.00","k":"value"},{"i":100.53,"v":-0.0345,"t":"日线","k":"name"}]},"mark":{"type":"text","fontSize":12,"baseline":"middle","align":"left"},"encoding":{"x":{"field":"i","type":"quantitative"},"y":{"field":"v","type":"quantitative"},"text":{"field":"t"},"color":{"field":"k","type":"nominal","legend":null,"scale":{"domain":["name","value"],"range":["#c0c0c0","#ffffff"]}}}}
]}
]}
